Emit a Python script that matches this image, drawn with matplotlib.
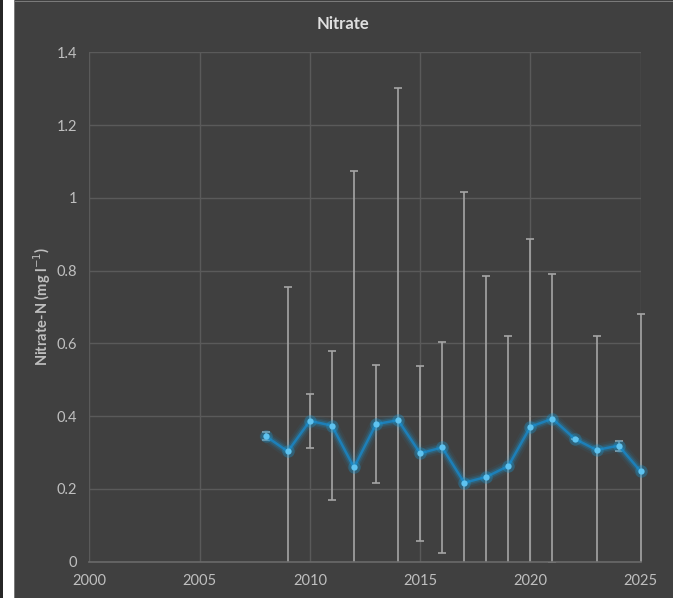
"""Nitrate-N annual means with error bars on a dark panel."""
import matplotlib

matplotlib.use("Agg")
import matplotlib.pyplot as plt  # noqa: E402
from matplotlib.patches import Rectangle  # noqa: E402

plt.rcParams["font.family"] = ["Lato", "DejaVu Sans"]

years = [2008, 2009, 2010, 2011, 2012, 2013, 2014, 2015, 2016,
         2017, 2018, 2019, 2020, 2021, 2022, 2023, 2024, 2025]
nitrate = [0.345, 0.303, 0.387, 0.374, 0.259, 0.378, 0.389, 0.298, 0.314,
           0.217, 0.233, 0.263, 0.371, 0.393, 0.338, 0.307, 0.319, 0.248]
nitrate_err = [0.011, 0.452, 0.075, 0.204, 0.815, 0.163, 0.913, 0.240, 0.289,
               0.798, 0.553, 0.357, 0.515, 0.397, 0.0, 0.313, 0.014, 0.432]

x_ticks = [2000, 2005, 2010, 2015, 2020, 2025]
y_ticks = [0, 0.2, 0.4, 0.6, 0.8, 1.0, 1.2, 1.4]
y_tick_labels = ["0", "0.2", "0.4", "0.6", "0.8", "1", "1.2", "1.4"]

BG = "#404040"
GRID = "#5a5a5a"
TEXT = "#bfbfbf"
LINE = "#1d7fb8"
GLOW = "#1a9ad6"
MARKER = "#5ec3f0"

W, H = 673, 598
fig = plt.figure(figsize=(W / 100, H / 100), dpi=100, facecolor=BG)

# strips down the left edge, then the panel's thin top/left border
fig.patches.append(Rectangle((0, 0), 3 / W, 1, transform=fig.transFigure,
                             facecolor="#262626", edgecolor="none", zorder=-1))
fig.patches.append(Rectangle((3 / W, 0), 11 / W, 1, transform=fig.transFigure,
                             facecolor="#ffffff", edgecolor="none", zorder=-1))
fig.patches.append(Rectangle((14 / W, 0), 1 / W, 1, transform=fig.transFigure,
                             facecolor="#7a7a7a", edgecolor="none", zorder=-1))
fig.patches.append(Rectangle((14 / W, 1 - 2 / H), 1, 1 / H, transform=fig.transFigure,
                             facecolor="#7a7a7a", edgecolor="none", zorder=-1))

ax = fig.add_axes([89.3 / W, 36.3 / H, (640.7 - 89.3) / W, (561.7 - 52.3) / H])
ax.set_facecolor(BG)

# clip at y=0 but leave room sideways so the 2025 point is not cut in half
clip = Rectangle((1999, 0), 27, 2, transform=ax.transData,
                 facecolor="none", edgecolor="none")

eb = ax.errorbar(years, nitrate, yerr=nitrate_err, fmt="none", ecolor="#a6a6a6",
                 elinewidth=1.2, capsize=3, capthick=1.2, zorder=2)
for child in eb.get_children():
    child.set_clip_path(clip)

# soft glow under the line and markers
artists = []
for lw, alpha in [(9, 0.07), (6, 0.13), (4, 0.22)]:
    artists += ax.plot(years, nitrate, color=GLOW, linewidth=lw, alpha=alpha,
                       solid_capstyle="round", zorder=3)
artists += ax.plot(years, nitrate, color=LINE, linewidth=1.8, zorder=4)
artists += ax.plot(years, nitrate, linestyle="none", marker="o", markersize=9,
                   color=GLOW, alpha=0.3, markeredgewidth=0, zorder=5)
artists += ax.plot(years, nitrate, linestyle="none", marker="o", markersize=4.5,
                   color=MARKER, markeredgewidth=0, zorder=6)
for artist in artists:
    artist.set_clip_path(clip)

ax.set_xlim(2000, 2025)
ax.set_ylim(0, 1.4)
ax.set_xticks(x_ticks)
ax.set_yticks(y_ticks)
ax.set_yticklabels(y_tick_labels)
ax.tick_params(length=0, colors=TEXT, labelsize=10.5)
ax.tick_params(axis="y", pad=9)
ax.tick_params(axis="x", pad=9)
ax.grid(True, color=GRID, linewidth=1)
ax.set_axisbelow(True)
for side, spine in ax.spines.items():
    spine.set_visible(side == "bottom")
ax.spines["bottom"].set_color("#6a6a6a")
ax.spines["bottom"].set_linewidth(1.2)

fig.text(42 / W, (H - 306) / H, "Nitrate-N (mg l$^{-1}$)", color=TEXT,
         fontsize=10.5, fontweight="bold", rotation=90, ha="center", va="center")
fig.text(343.5 / W, 1 - 24 / H, "Nitrate", color="#e0e0e0", fontsize=12,
         fontweight="bold", ha="center", va="center")

fig.savefig("out.png", dpi=100, facecolor=fig.get_facecolor())
